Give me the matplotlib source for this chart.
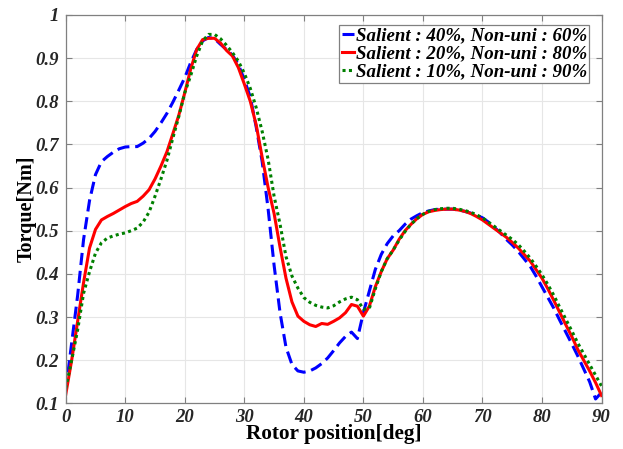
import numpy as np
import matplotlib
matplotlib.use("Agg")
from matplotlib import pyplot as plt

plt.rcParams["font.family"] = ["Liberation Serif", "DejaVu Serif"]

# rotor position in degrees, 1 degree step
angle = list(range(0, 91))

torque_40 = [
    0.13, 0.24, 0.35, 0.48, 0.57, 0.63, 0.66, 0.672, 0.682, 0.69,
    0.694, 0.695, 0.695, 0.703, 0.714, 0.73, 0.75, 0.772, 0.798, 0.826,
    0.855, 0.89, 0.92, 0.94, 0.948, 0.945, 0.932, 0.92, 0.907, 0.885,
    0.85, 0.81, 0.74, 0.66, 0.55, 0.42, 0.31, 0.23, 0.19, 0.175,
    0.172, 0.175, 0.182, 0.192, 0.205, 0.222, 0.24, 0.255, 0.265, 0.25,
    0.31, 0.36, 0.41, 0.445, 0.47, 0.488, 0.50, 0.515, 0.527, 0.535,
    0.542, 0.546, 0.549, 0.55, 0.55, 0.55, 0.548, 0.545, 0.541, 0.536,
    0.53, 0.52, 0.508, 0.495, 0.48, 0.467, 0.452, 0.435, 0.418, 0.395,
    0.37, 0.345, 0.32, 0.292, 0.265, 0.238, 0.21, 0.18, 0.15, 0.11,
    0.125,
]

torque_20 = [
    0.12, 0.20, 0.29, 0.38, 0.46, 0.503, 0.525, 0.533, 0.54, 0.548,
    0.556, 0.563, 0.568, 0.58, 0.595, 0.62, 0.65, 0.683, 0.725, 0.768,
    0.82, 0.875, 0.92, 0.943, 0.946, 0.946, 0.935, 0.918, 0.905, 0.878,
    0.84, 0.80, 0.745, 0.67, 0.60, 0.54, 0.462, 0.39, 0.335, 0.302,
    0.29, 0.282, 0.278, 0.285, 0.283, 0.29, 0.298, 0.31, 0.329, 0.325,
    0.302, 0.325, 0.37, 0.405, 0.435, 0.455, 0.48, 0.50, 0.515, 0.528,
    0.538, 0.544, 0.547, 0.549, 0.55, 0.55, 0.548, 0.545, 0.54, 0.533,
    0.525, 0.515, 0.505, 0.495, 0.485, 0.473, 0.46, 0.445, 0.43, 0.41,
    0.39, 0.365, 0.338, 0.31, 0.282, 0.255, 0.225, 0.2, 0.175, 0.148,
    0.118,
]

torque_10 = [
    0.135, 0.20, 0.27, 0.355, 0.405, 0.448, 0.472, 0.483, 0.488, 0.492,
    0.495, 0.50, 0.506, 0.52, 0.543, 0.58, 0.62, 0.663, 0.715, 0.765,
    0.82, 0.86, 0.905, 0.94, 0.955, 0.955, 0.945, 0.93, 0.913, 0.893,
    0.865, 0.83, 0.785, 0.73, 0.665, 0.58, 0.515, 0.44, 0.395, 0.367,
    0.345, 0.334, 0.327, 0.323, 0.321, 0.326, 0.335, 0.342, 0.346, 0.34,
    0.318, 0.32, 0.365, 0.405, 0.435, 0.455, 0.478, 0.498, 0.515, 0.528,
    0.538, 0.545, 0.549, 0.551, 0.552, 0.552, 0.55, 0.547, 0.543, 0.537,
    0.53, 0.52, 0.51, 0.50, 0.49, 0.48, 0.468, 0.453, 0.437, 0.418,
    0.398, 0.375, 0.35, 0.322, 0.295, 0.268, 0.24, 0.215, 0.19, 0.165,
    0.14,
]

labels = [
    "Salient : 40%, Non-uni : 60%",
    "Salient : 20%, Non-uni : 80%",
    "Salient : 10%, Non-uni : 90%",
]

xticks = [0, 10, 20, 30, 40, 50, 60, 70, 80, 90]
yticks = [0.1, 0.2, 0.3, 0.4, 0.5, 0.6, 0.7, 0.8, 0.9, 1.0]
yticklabels = ["0.1", "0.2", "0.3", "0.4", "0.5", "0.6", "0.7", "0.8", "0.9", "1"]

fig = plt.figure(figsize=(6.23, 4.49), dpi=100)
ax = fig.add_axes([0.1055, 0.1018, 0.86, 0.8648])

ax.plot(angle, torque_40, color="#0000FF", lw=2.2, linestyle=(0, (4, 1.9)), label=labels[0])
ax.plot(angle, torque_20, color="#FF0000", lw=2.2, linestyle="-", label=labels[1])
ax.plot(angle, torque_10, color="#008000", lw=2.2, linestyle=(0, (1, 1.1)), label=labels[2])

ax.set_xlim(0, 90)
ax.set_ylim(0.1, 1.0)
ax.set_xticks(xticks)
ax.set_yticks(yticks)
ax.set_yticklabels(yticklabels)

for lab in ax.get_xticklabels() + ax.get_yticklabels():
    lab.set_fontweight("bold")
    lab.set_fontstyle("italic")
    lab.set_fontsize(13.5)
    lab.set_color("#262626")

ax.tick_params(direction="in", length=4, width=0.8, color="#808080", top=True, right=True, pad=5)
ax.tick_params(axis="x", pad=4)
ax.grid(True, color="#e6e6e6", lw=0.8)
ax.set_axisbelow(True)
for sp in ax.spines.values():
    sp.set_color("#808080")
    sp.set_linewidth(0.9)

ax.set_xlabel("Rotor position[deg]", fontsize=15.3, fontweight="bold", labelpad=-1)
ax.set_ylabel("Torque[Nm]", fontsize=14.5, fontweight="bold", labelpad=-1)

leg = ax.legend(
    loc="upper right",
    bbox_to_anchor=(0.977, 0.975),
    prop={"weight": "bold", "style": "italic", "size": 13.6},
    handlelength=0.65,
    handletextpad=0.1,
    labelspacing=0.05,
    borderpad=0.12,
    borderaxespad=0.0,
    fancybox=False,
    framealpha=1,
    edgecolor="#808080",
)
leg.get_frame().set_linewidth(0.9)

fig.savefig("out.png", dpi=100)
